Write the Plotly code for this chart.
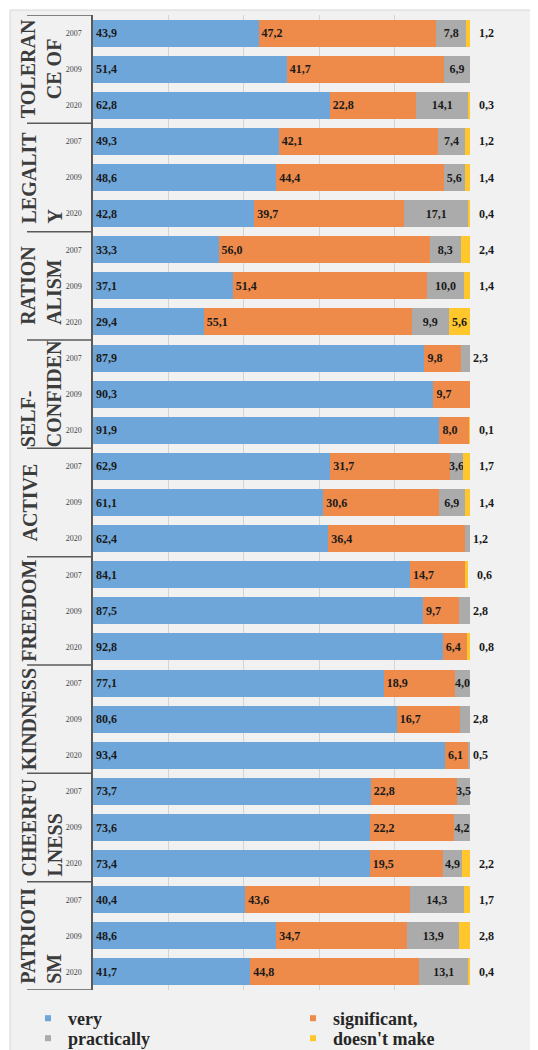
import plotly.graph_objects as go

# ---- data ----
groups = ["TOLERAN<br>CE OF", "LEGALIT<br>Y", "RATION<br>ALISM", "SELF-<br>CONFIDEN",
          "ACTIVE", "FREEDOM", "KINDNESS", "CHEERFU<br>LNESS", "PATRIOTI<br>SM"]
group_align = ["center", "left", "left", "left", "center", "center", "center", "left", "left"]
years = ["2007", "2009", "2020"]

very = [43.9, 51.4, 62.8, 49.3, 48.6, 42.8, 33.3, 37.1, 29.4,
        87.9, 90.3, 91.9, 62.9, 61.1, 62.4, 84.1, 87.5, 92.8,
        77.1, 80.6, 93.4, 73.7, 73.6, 73.4, 40.4, 48.6, 41.7]
significant = [47.2, 41.7, 22.8, 42.1, 44.4, 39.7, 56.0, 51.4, 55.1,
               9.8, 9.7, 8.0, 31.7, 30.6, 36.4, 14.7, 9.7, 6.4,
               18.9, 16.7, 6.1, 22.8, 22.2, 19.5, 43.6, 34.7, 44.8]
practically = [7.8, 6.9, 14.1, 7.4, 5.6, 17.1, 8.3, 10.0, 9.9,
               2.3, 0.0, 0.0, 3.6, 6.9, 1.2, 0.0, 2.8, 0.0,
               4.0, 2.8, 0.5, 3.5, 4.2, 4.9, 14.3, 13.9, 13.1]
doesnt = [1.2, 0.0, 0.3, 1.2, 1.4, 0.4, 2.4, 1.4, 5.6,
          0.0, 0.0, 0.1, 1.7, 1.4, 0.0, 0.6, 0.0, 0.8,
          0.0, 0.0, 0.0, 0.0, 0.0, 2.2, 1.7, 2.8, 0.4]

series_names = ["very", "significant,", "practically", "doesn't make"]
colors = ["#6FA6DA", "#EE8A4A", "#ABABAB", "#FFC72C"]

SERIF = "Liberation Serif"
LABEL_COLOR = "#1a1a1a"


def fmt(v):
    return f"{v:.1f}".replace(".", ",")


def inside_labels(vals, thr):
    return [fmt(v) if v >= thr else "" for v in vals]


n = len(very)
yidx = list(range(n))
ticktext = years * len(groups)

fig = go.Figure()

series = [very, significant, practically, doesnt]
thresholds = [0.01, 0.01, 3.5, 5.0]
anchors = ["start", "start", "middle", "middle"]
for vals, name, col, thr, anc in zip(series, series_names, colors, thresholds, anchors):
    fig.add_trace(go.Bar(
        x=vals, y=yidx, orientation="h", name=name, showlegend=False,
        marker=dict(color=col, line=dict(width=0)),
        text=inside_labels(vals, thr), textposition="inside", insidetextanchor=anc,
        textangle=0, constraintext="none", cliponaxis=False,
        textfont=dict(family=SERIF, size=12, color=LABEL_COLOR, weight="bold"),
        hoverinfo="x+name",
    ))

# legend entries (small square swatches), each in its own legend box (2 x 2 grid)
legend_ids = ["legend", "legend2", "legend3", "legend4"]
for name, col, lg in zip(series_names, colors, legend_ids):
    fig.add_trace(go.Scatter(
        x=[None], y=[None], mode="markers", name=name, legend=lg,
        marker=dict(symbol="square", size=6, color=col), showlegend=True,
    ))

annotations = []
# small values written to the right of the bars
for i in range(n):
    total = min(100.0, round(very[i] + significant[i] + practically[i] + doesnt[i], 3))
    if 0 < doesnt[i] < 5.0:
        annotations.append(dict(x=total, y=i, xref="x", yref="y", text=fmt(doesnt[i]),
                                showarrow=False, xanchor="left", xshift=7,
                                font=dict(family=SERIF, size=12, color=LABEL_COLOR, weight="bold")))
    elif doesnt[i] == 0 and 0 < practically[i] < 3.5:
        annotations.append(dict(x=total, y=i, xref="x", yref="y", text=fmt(practically[i]),
                                showarrow=False, xanchor="left", xshift=1,
                                font=dict(family=SERIF, size=12, color=LABEL_COLOR, weight="bold")))

# ---- geometry: the page body adds an 8px offset, so the figure is sized to the
# visible window and the layout is expressed in window pixels ----
OFF = 8
WIN_W, WIN_H = 538, 1050
W, H = WIN_W - OFF, WIN_H - OFF
PLOT_L, PLOT_R, PLOT_T, PLOT_B = 93, 470, 15, 990      # window pixels
L = PLOT_L - OFF
T = PLOT_T - OFF
R = W - (PLOT_R - OFF)
B = H - (PLOT_B - OFF)
pw = PLOT_R - PLOT_L
ph = PLOT_B - PLOT_T


def px_to_paper_x(px):
    return (px - PLOT_L) / pw


def px_to_paper_y(py):
    return 1 - (py - PLOT_T) / ph


for g, (name, al) in enumerate(zip(groups, group_align)):
    two_line = "<br>" in name
    annotations.append(dict(
        x=px_to_paper_x(41 if two_line else 29), y=g * 3 + 1, xref="paper", yref="y",
        text=name, showarrow=False, textangle=-90, align=al,
        xanchor="center", yanchor="middle",
        font=dict(family=SERIF, size=20, color="#3c3c3c", weight="bold"),
    ))

shapes = [
    # chart frame / background
    dict(type="rect", xref="paper", yref="paper",
         x0=px_to_paper_x(10), x1=px_to_paper_x(560), y0=px_to_paper_y(1070), y1=px_to_paper_y(10),
         fillcolor="#f1f1f1", line=dict(color="#d6d6d6", width=1), layer="below"),
]
for k in range(len(groups) + 1):
    shapes.append(dict(type="line", xref="paper", yref="y",
                       x0=px_to_paper_x(27), x1=0, y0=k * 3 - 0.5, y1=k * 3 - 0.5,
                       line=dict(color="#5a5a5a", width=1.5)))

legend_font = dict(family=SERIF, size=18, color="#262626", weight="bold")
legend_pos = [(28, 1000), (293, 1000), (28, 1020), (293, 1020)]   # window pixels
legend_layouts = {}
for lg, (lx, ly) in zip(legend_ids, legend_pos):
    legend_layouts[lg] = dict(x=px_to_paper_x(lx), y=px_to_paper_y(ly), xanchor="left", yanchor="top",
                              orientation="v", bgcolor="rgba(0,0,0,0)", font=legend_font)

fig.update_layout(
    width=W, height=H,
    margin=dict(l=L, r=R, t=T, b=B, autoexpand=False),
    barmode="stack", bargap=0.25,
    paper_bgcolor="#ffffff", plot_bgcolor="rgba(0,0,0,0)",
    annotations=annotations, shapes=shapes,
    xaxis=dict(range=[0, 100], dtick=20, showticklabels=False, showgrid=True,
               gridcolor="#d4d4d4", gridwidth=1, zeroline=False, fixedrange=True),
    yaxis=dict(range=[n - 0.5, -0.5], tickmode="array", tickvals=yidx, ticktext=ticktext,
               tickfont=dict(family=SERIF, size=8, color="#444444"), ticks="",
               ticklabelstandoff=8, showline=True, linecolor="#5a5a5a", linewidth=1.5,
               showgrid=False, zeroline=False, fixedrange=True),
    font=dict(family=SERIF),
    **legend_layouts,
)

fig.write_html("out.html")
